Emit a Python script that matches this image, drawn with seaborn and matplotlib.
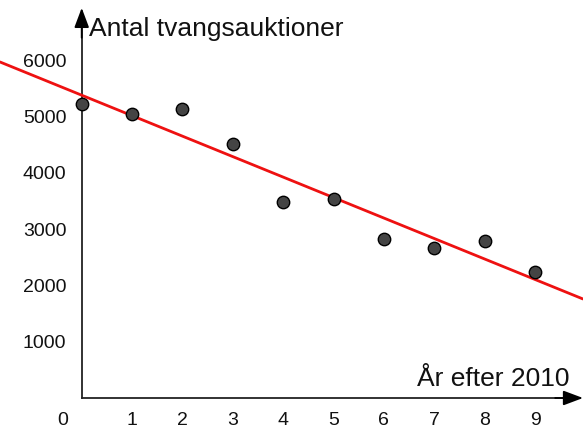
import matplotlib
matplotlib.use("Agg")
import matplotlib.pyplot as plt
import seaborn as sns
import pandas as pd

# Data
years_after_2010 = [0, 1, 2, 3, 4, 5, 6, 7, 8, 9]
foreclosures = [5220, 5040, 5130, 4510, 3490, 3530, 2820, 2660, 2780, 2240]
x_ticks = [1, 2, 3, 4, 5, 6, 7, 8, 9]
y_ticks = [1000, 2000, 3000, 4000, 5000, 6000]
x_label = "År efter 2010"
y_label = "Antal tvangsauktioner"

df = pd.DataFrame({"x": years_after_2010, "y": foreclosures})

sns.set_style("white")
plt.rcParams["font.family"] = ["Liberation Sans", "DejaVu Sans"]

fig = plt.figure(figsize=(5.83, 4.28), dpi=100)
ax = fig.add_axes([0, 0, 1, 1])
ax.set_xlim(-1.622, 9.952)
ax.set_ylim(-533, 7070)

sns.regplot(data=df, x="x", y="y", ax=ax, ci=None, truncate=False,
            scatter_kws=dict(s=80, color="#444444", edgecolor="black",
                             linewidths=1.0, alpha=1, zorder=4),
            line_kws=dict(color="#ee1111", lw=2, zorder=3))
ax.set_xlabel("")
ax.set_ylabel("")

# axes through origin
for s in ["top", "right"]:
    ax.spines[s].set_visible(False)
ax.spines["left"].set_position(("data", 0))
ax.spines["bottom"].set_position(("data", 0))
ax.spines["left"].set_bounds(0, 6800)
ax.spines["bottom"].set_bounds(0, 9.6)
for s in ["left", "bottom"]:
    ax.spines[s].set_color("#222222")
    ax.spines[s].set_linewidth(1.3)
    ax.spines[s].set_zorder(2)

ax.set_xticks(x_ticks)
ax.set_yticks(y_ticks)
ax.tick_params(axis="both", direction="out", length=5, width=1.2,
               color="#222222", labelsize=14, labelcolor="#111111")
ax.tick_params(axis="x", pad=5)
ax.tick_params(axis="y", pad=6)
ax.text(-0.38, 0, "0", transform=ax.transData, fontsize=14, color="#111111",
        ha="center", va="top").set_y(-255)

# arrowheads
ax.annotate("", xy=(9.952, 0), xytext=(9.4, 0),
            arrowprops=dict(arrowstyle="-|>,head_length=1.2,head_width=0.45",
                            color="black", lw=1.3, shrinkA=0, shrinkB=0),
            annotation_clip=False)
ax.annotate("", xy=(0, 6930), xytext=(0, 6400),
            arrowprops=dict(arrowstyle="-|>,head_length=1.2,head_width=0.45",
                            color="black", lw=1.3, shrinkA=0, shrinkB=0),
            annotation_clip=False)

ax.text(9.675, 130, x_label, fontsize=19, ha="right", va="bottom", color="#111111")
fig.text(89 / 583, 1 - 17 / 428, y_label, fontsize=19, ha="left", va="top",
         color="#111111")

ax.grid(False)
fig.savefig("out.png", dpi=100)
